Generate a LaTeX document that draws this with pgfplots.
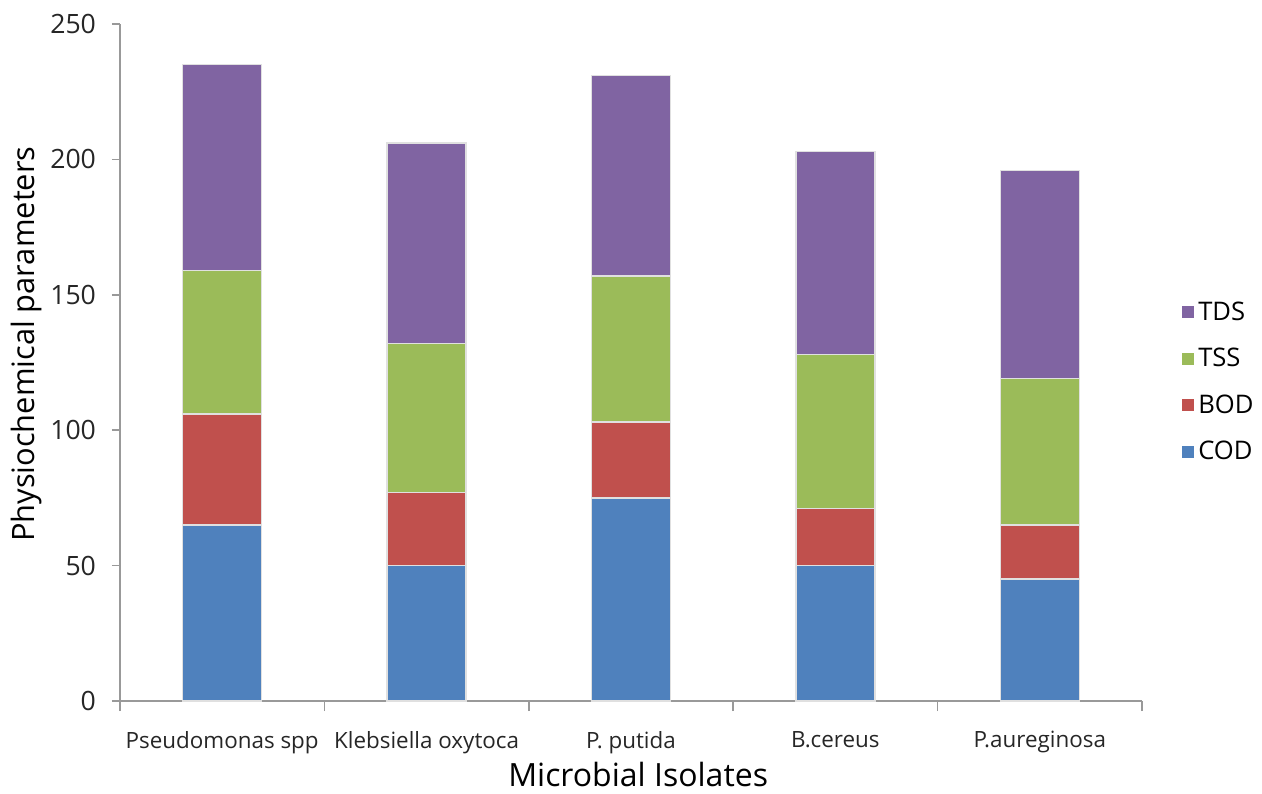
\documentclass[border=0pt]{standalone}
\usepackage{pgfplots}
\usepackage{pgfplotstable}
\pgfplotsset{compat=1.18}
\usepackage{fontspec}
\setmainfont{Open Sans}

\definecolor{codc}{HTML}{4F81BD}
\definecolor{bodc}{HTML}{C0504D}
\definecolor{tssc}{HTML}{9BBB59}
\definecolor{tdsc}{HTML}{8064A2}

% x   COD  BOD  TSS  TDS  (stacked segments)
\pgfplotstableread{
x COD BOD TSS TDS
0 65 41 53 76
1 50 27 55 74
2 75 28 54 74
3 50 21 57 75
4 45 20 54 77
}\isolates

\begin{document}
\begin{tikzpicture}
\path (-60pt,-45.5pt) rectangle (571pt,350.5pt);
\begin{axis}[
  at={(0pt,0pt)}, anchor=south west,
  scale only axis, width=511pt, height=338.5pt,
  ybar stacked, bar width=39.5pt,
  xmin=-0.5, xmax=4.5, ymin=0, ymax=250,
  ytick={0,50,...,250},
  xtick={0,...,4},
  xticklabels={Pseudomonas spp,Klebsiella oxytoca,P. putida,B.cereus,P.aureginosa},
  minor xtick={-0.5,0.5,...,4.5},
  axis lines*=left,
  axis line style={draw=black!40, line width=0.8pt},
  tick align=outside,
  major tick length=4pt, minor tick length=5pt,
  major x tick style={draw=none},
  every tick/.style={draw=black!40, line width=0.8pt},
  minor tick style={draw=black!40, line width=0.8pt},
  yticklabel style={font=\fontsize{13.3}{15}\selectfont, text=black!85, xshift=-4.5pt},
  xticklabel style={font=\fontsize{11.2}{13}\selectfont, text=black!85, yshift=-7.5pt},
  label style={font=\fontsize{16}{19}\selectfont},
  ylabel={Physiochemical parameters},
  xlabel={Microbial Isolates},
  ylabel style={at={(axis description cs:-0.091,0.527)}, anchor=center, font=\fontsize{15.4}{18}\selectfont},
  xlabel style={at={(axis description cs:0.507,-0.109)}, anchor=center},
  /pgf/number format/assume math mode=true,
  every axis plot/.append style={draw=white!88!black, line width=0.7pt},
  area legend,
  legend image code/.code={\fill[#1, draw=none] (0pt,-3pt) rectangle (6pt,3pt);},
  reverse legend,
  legend style={at={(axis description cs:1.039,0.471)}, anchor=west, draw=none,
    font=\fontsize{12.8}{15}\selectfont, row sep=8.5pt, inner sep=0pt,
    cells={anchor=west}},
]
\addplot[fill=codc] table[x=x, y=COD] {\isolates};
\addplot[fill=bodc] table[x=x, y=BOD] {\isolates};
\addplot[fill=tssc] table[x=x, y=TSS] {\isolates};
\addplot[fill=tdsc] table[x=x, y=TDS] {\isolates};
\legend{COD,BOD,TSS,TDS}
\end{axis}
\end{tikzpicture}
\end{document}
